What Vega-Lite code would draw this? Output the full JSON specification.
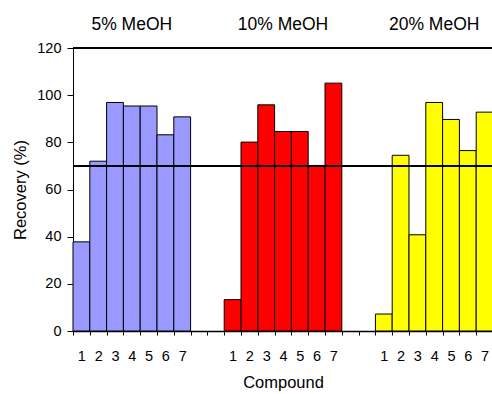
{
  "$schema": "https://vega.github.io/schema/vega-lite/v6.json",
  "width": 420,
  "height": 283,
  "autosize": "none",
  "padding": {"left": 73, "top": 48, "right": 0, "bottom": 63},
  "config": {
    "font": "Liberation Sans",
    "view": {"stroke": null},
    "axis": {
      "labelColor": "black",
      "titleColor": "black",
      "domainColor": "black",
      "tickColor": "black",
      "titleFontWeight": "normal",
      "grid": false
    }
  },
  "data": {
    "values": [
      {"group": "5% MeOH", "key": "a1", "recovery": 37.8},
      {"group": "5% MeOH", "key": "a2", "recovery": 72.0},
      {"group": "5% MeOH", "key": "a3", "recovery": 96.9},
      {"group": "5% MeOH", "key": "a4", "recovery": 95.4},
      {"group": "5% MeOH", "key": "a5", "recovery": 95.4},
      {"group": "5% MeOH", "key": "a6", "recovery": 83.2},
      {"group": "5% MeOH", "key": "a7", "recovery": 90.8},
      {"group": "10% MeOH", "key": "b1", "recovery": 13.3},
      {"group": "10% MeOH", "key": "b2", "recovery": 80.1},
      {"group": "10% MeOH", "key": "b3", "recovery": 95.9},
      {"group": "10% MeOH", "key": "b4", "recovery": 84.6},
      {"group": "10% MeOH", "key": "b5", "recovery": 84.6},
      {"group": "10% MeOH", "key": "b6", "recovery": 70.2},
      {"group": "10% MeOH", "key": "b7", "recovery": 105.1},
      {"group": "20% MeOH", "key": "c1", "recovery": 7.2},
      {"group": "20% MeOH", "key": "c2", "recovery": 74.5},
      {"group": "20% MeOH", "key": "c3", "recovery": 40.8},
      {"group": "20% MeOH", "key": "c4", "recovery": 96.9},
      {"group": "20% MeOH", "key": "c5", "recovery": 89.7},
      {"group": "20% MeOH", "key": "c6", "recovery": 76.5},
      {"group": "20% MeOH", "key": "c7", "recovery": 92.8}
    ]
  },
  "layer": [
    {
      "mark": {"type": "bar", "stroke": "black", "strokeWidth": 1},
      "encoding": {
        "x": {
          "field": "key",
          "type": "nominal",
          "scale": {
            "domain": ["a1", "a2", "a3", "a4", "a5", "a6", "a7", "g1", "g2", "b1", "b2", "b3", "b4", "b5", "b6", "b7", "g3", "g4", "c1", "c2", "c3", "c4", "c5", "c6", "c7"],
            "paddingInner": 0,
            "paddingOuter": 0
          },
          "axis": {
            "title": "Compound",
            "titleFontSize": 16.5,
            "titlePadding": 12,
            "labelAngle": 0,
            "labelFontSize": 14.5,
            "labelPadding": 14,
            "tickSize": 4,
            "tickBand": "extent",
            "domainWidth": 1.5,
            "labelExpr": "isString(datum.value) && datum.value[0] != 'g' ? datum.value[1] : ''"
          }
        },
        "y": {
          "field": "recovery",
          "type": "quantitative",
          "scale": {"domain": [0, 120]},
          "axis": {
            "title": "Recovery (%)",
            "titleFontSize": 16.5,
            "titlePadding": 8,
            "labelFontSize": 14.5,
            "labelPadding": 6,
            "tickSize": 6
          }
        },
        "color": {
          "field": "group",
          "type": "nominal",
          "scale": {"domain": ["5% MeOH", "10% MeOH", "20% MeOH"], "range": ["#9999FF", "#FF0000", "#FFFF00"]},
          "legend": null
        }
      }
    },
    {
      "mark": {"type": "rule", "color": "black", "strokeWidth": 2},
      "encoding": {"y": {"datum": 70}}
    },
    {
      "mark": {"type": "rule", "color": "black", "strokeWidth": 2},
      "encoding": {"y": {"datum": 120}}
    },
    {
      "transform": [{"filter": {"field": "key", "oneOf": ["a4", "b4", "c4"]}}],
      "mark": {"type": "text", "fontSize": 17.5, "baseline": "alphabetic", "dy": -18, "color": "black"},
      "encoding": {
        "x": {"field": "key", "type": "nominal"},
        "y": {"datum": 120},
        "text": {"field": "group"}
      }
    }
  ]
}
